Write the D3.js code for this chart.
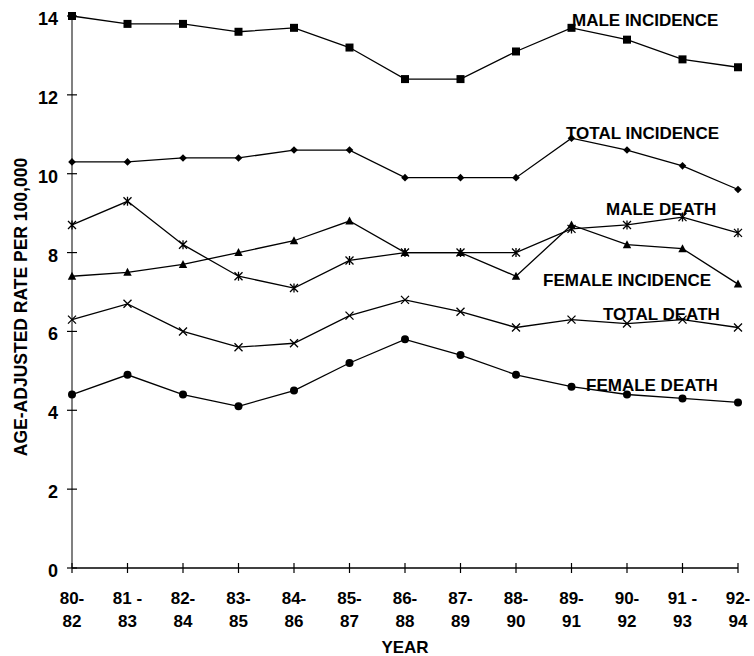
<!DOCTYPE html>
<html><head><meta charset="utf-8">
<script src="https://cdn.jsdelivr.net/npm/d3@7"></script>
<style>
html,body{margin:0;padding:0;background:#fff;}
text{font-family:"Liberation Sans",Arial,sans-serif;font-weight:bold;fill:#000;}
</style></head>
<body><svg id="c" width="754" height="656"></svg>
<script>
const categories = ["80-|82","81 -|83","82-|84","83-|85","84-|86","85-|87","86-|88","87-|89","88-|90","89-|91","90-|92","91 -|93","92-|94"];
const yTicks = [0,2,4,6,8,10,12,14];
const maleIncidence   = [14.0,13.8,13.8,13.6,13.7,13.2,12.4,12.4,13.1,13.7,13.4,12.9,12.7];
const totalIncidence  = [10.3,10.3,10.4,10.4,10.6,10.6,9.9,9.9,9.9,10.9,10.6,10.2,9.6];
const maleDeath       = [8.7,9.3,8.2,7.4,7.1,7.8,8.0,8.0,8.0,8.6,8.7,8.9,8.5];
const femaleIncidence = [7.4,7.5,7.7,8.0,8.3,8.8,8.0,8.0,7.4,8.7,8.2,8.1,7.2];
const totalDeath      = [6.3,6.7,6.0,5.6,5.7,6.4,6.8,6.5,6.1,6.3,6.2,6.3,6.1];
const femaleDeath     = [4.4,4.9,4.4,4.1,4.5,5.2,5.8,5.4,4.9,4.6,4.4,4.3,4.2];
const seriesNames = ["MALE INCIDENCE","TOTAL INCIDENCE","MALE DEATH","FEMALE INCIDENCE","TOTAL DEATH","FEMALE DEATH"];

const series = [
  {name:seriesNames[0], values:maleIncidence, marker:"square", lx:572, ly:26},
  {name:seriesNames[1], values:totalIncidence, marker:"diamond", lx:566, ly:139},
  {name:seriesNames[2], values:maleDeath, marker:"asterisk", lx:606, ly:215},
  {name:seriesNames[3], values:femaleIncidence, marker:"triangle", lx:543, ly:286},
  {name:seriesNames[4], values:totalDeath, marker:"x", lx:603, ly:320},
  {name:seriesNames[5], values:femaleDeath, marker:"circle", lx:586, ly:391}
];

const svg = d3.select("#c");
const x = d3.scalePoint().domain(d3.range(categories.length)).range([72,738]);
const y = d3.scaleLinear().domain([0,14]).range([568,16]);

// Y axis
svg.append("line").attr("x1",72).attr("x2",72).attr("y1",y(14)).attr("y2",y(0))
  .attr("stroke","#808080").attr("stroke-width",2);
svg.selectAll(".yt").data(yTicks).enter().append("line")
  .attr("x1",67).attr("x2",77).attr("y1",d=>y(d)).attr("y2",d=>y(d))
  .attr("stroke","#000").attr("stroke-width",1.2);
svg.selectAll(".yl").data(yTicks).enter().append("text")
  .attr("x",58).attr("y",d=>y(d)+9).attr("text-anchor","end")
  .style("font-size","18px").text(d=>d);

// X axis
svg.append("line").attr("x1",72).attr("x2",738).attr("y1",y(0)).attr("y2",y(0))
  .attr("stroke","#000").attr("stroke-width",1.3);
svg.selectAll(".xt").data(d3.range(categories.length)).enter().append("line")
  .attr("x1",d=>x(d)).attr("x2",d=>x(d)).attr("y1",y(0)-5).attr("y2",y(0)+5)
  .attr("stroke","#000").attr("stroke-width",1.2);
const xl = svg.selectAll(".xl").data(d3.range(categories.length)).enter().append("text")
  .attr("text-anchor","middle").style("font-size","17px");
xl.append("tspan").attr("x",d=>x(d)).attr("y",604).text(d=>categories[d].split("|")[0]);
xl.append("tspan").attr("x",d=>x(d)).attr("y",627).text(d=>categories[d].split("|")[1]);

svg.append("text").attr("x",405).attr("y",653).attr("text-anchor","middle")
  .style("font-size","17px").text("YEAR");
svg.append("text").attr("transform","translate(27,307) rotate(-90)")
  .attr("text-anchor","middle").style("font-size","17px").style("font-size","17.5px")
  .text("AGE-ADJUSTED RATE PER 100,000");

// Lines
const line = d3.line().x((d,i)=>x(i)).y(d=>y(d));
series.forEach(s=>{
  svg.append("path").datum(s.values).attr("d",line)
    .attr("fill","none").attr("stroke","#000").attr("stroke-width",1.3);
});

// Markers
function drawMarker(g,type){
  if(type==="square") g.append("rect").attr("x",-4).attr("y",-4).attr("width",8).attr("height",8).attr("fill","#000");
  else if(type==="diamond") g.append("path").attr("d","M0,-3.8L3.8,0L0,3.8L-3.8,0Z").attr("fill","#000");
  else if(type==="triangle") g.append("path").attr("d","M0,-4.5L4.2,3.5L-4.2,3.5Z").attr("fill","#000");
  else if(type==="circle") g.append("circle").attr("r",4).attr("fill","#000");
  else if(type==="x") g.append("path").attr("d","M-4,-4L4,4M-4,4L4,-4").attr("stroke","#000").attr("stroke-width",1.3);
  else if(type==="asterisk") g.append("path").attr("d","M-4,-4L4,4M-4,4L4,-4M0,-4.5L0,4.5").attr("stroke","#000").attr("stroke-width",1.3);
}
series.forEach(s=>{
  s.values.forEach((v,i)=>{
    const g = svg.append("g").attr("transform",`translate(${x(i)},${y(v)})`);
    drawMarker(g,s.marker);
  });
  svg.append("text").attr("x",s.lx).attr("y",s.ly).style("font-size","17px").text(s.name);
});
</script></body></html>
